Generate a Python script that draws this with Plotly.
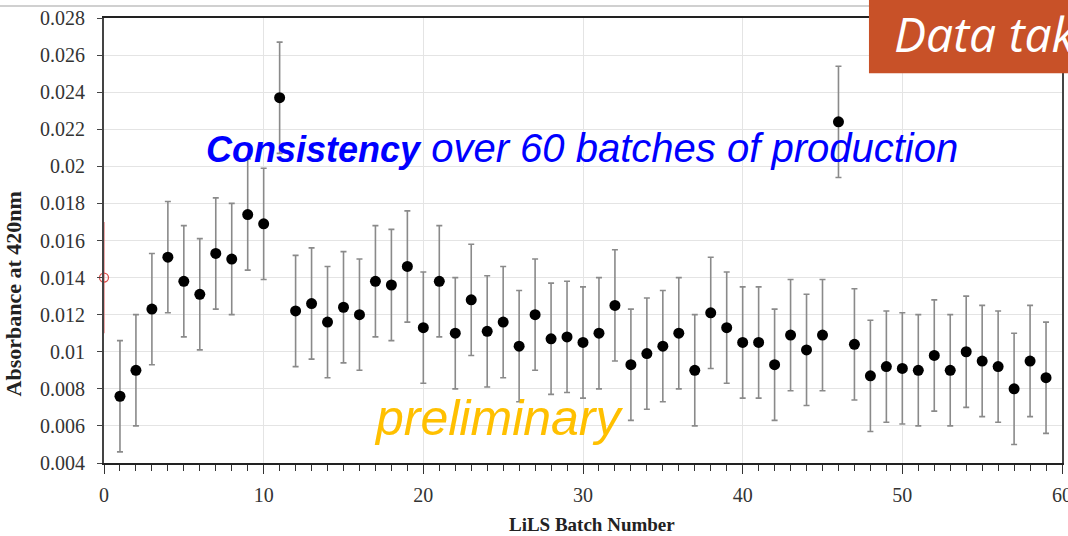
import plotly.graph_objects as go

# Absorbance at 420 nm for each LiLS production batch
batch = list(range(1, 60))
absorbance = [
    0.0076, 0.0090, 0.0123, 0.0151, 0.0138, 0.0131, 0.0153, 0.0150, 0.0174, 0.0169,
    0.0237, 0.0122, 0.0126, 0.0116, 0.0124, 0.0120, 0.0138, 0.0136, 0.0146, 0.0113,
    0.0138, 0.0110, 0.0128, 0.0111, 0.0116, 0.0103, 0.0120, 0.0107, 0.0108, 0.0105,
    0.0110, 0.0125, 0.0093, 0.0099, 0.0103, 0.0110, 0.0090, 0.0121, 0.0113, 0.0105,
    0.0105, 0.0093, 0.0109, 0.0101, 0.0109, 0.0224, 0.0104, 0.0087, 0.0092, 0.0091,
    0.0090, 0.0098, 0.0090, 0.0100, 0.0095, 0.0092, 0.0080, 0.0095, 0.0086,
]
uncertainty = 0.003

# Reference point at batch 0
ref_batch = [0]
ref_absorbance = [0.014]
ref_uncertainty = 0.003

y_ticks = [0.004, 0.006, 0.008, 0.01, 0.012, 0.014, 0.016, 0.018, 0.02,
           0.022, 0.024, 0.026, 0.028]
y_tick_text = ["0.004", "0.006", "0.008", "0.01", "0.012", "0.014", "0.016",
               "0.018", "0.02", "0.022", "0.024", "0.026", "0.028"]
x_ticks = [0, 10, 20, 30, 40, 50, 60]

serif = "Liberation Serif"

fig = go.Figure()

fig.add_trace(go.Scatter(
    x=ref_batch, y=ref_absorbance, mode="markers",
    marker=dict(symbol="circle-open", size=9, color="#d9534f", line=dict(width=1.3)),
    error_y=dict(type="constant", value=ref_uncertainty, color="#e07070",
                 thickness=1.2, width=0),
    cliponaxis=False, showlegend=False,
))

fig.add_trace(go.Scatter(
    x=batch, y=absorbance, mode="markers",
    marker=dict(symbol="circle", size=11, color="black"),
    error_y=dict(type="constant", value=uncertainty, color="#8a8a8a",
                 thickness=1.6, width=3),
    showlegend=False,
))

fig.update_layout(
    width=1068, height=536,
    margin=dict(l=104, r=6, t=18, b=73, autoexpand=False),
    paper_bgcolor="white", plot_bgcolor="white",
    xaxis=dict(
        range=[0, 60], tickvals=x_ticks, ticks="outside", ticklen=9,
        tickcolor="#333", tickwidth=1.3,
        minor=dict(dtick=1, ticks="outside", ticklen=6, tickcolor="#333", tickwidth=1.2,
                   showgrid=False),
        showgrid=True, gridcolor="#e4e4e4", gridwidth=1,
        showline=True, linecolor="#222", linewidth=2, mirror=True,
        zeroline=False, automargin=False,
        tickfont=dict(family=serif, size=20, color="#333"),
        ticklabelstandoff=4, ticklabeloverflow="allow",
    ),
    yaxis=dict(
        range=[0.004, 0.028], tickvals=y_ticks, ticktext=y_tick_text,
        ticks="outside", ticklen=5, tickcolor="#444", tickwidth=1.2,
        showgrid=True, gridcolor="#e4e4e4", gridwidth=1,
        showline=True, linecolor="#444", linewidth=2, mirror=True,
        zeroline=False, automargin=False,
        tickfont=dict(family=serif, size=20, color="#333"),
        ticklabelstandoff=8,
    ),
    shapes=[
        dict(type="line", xref="paper", yref="paper", x0=-0.11, x1=1.01,
             y0=1.027, y1=1.027, line=dict(color="#d0d0d0", width=2), layer="above"),
        dict(type="rect", xref="paper", yref="paper", x0=0.7985, x1=1.01,
             y0=0.876, y1=1.05, fillcolor="#c85128", line=dict(width=0), layer="above"),
    ],
    annotations=[
        dict(text="<b>LiLS Batch Number</b>", xref="paper", yref="paper",
             x=0.509, y=-0.139, xanchor="center", yanchor="middle", showarrow=False,
             font=dict(family=serif, size=19, color="#222")),
        dict(text="<b>Absorbance at 420nm</b>", xref="paper", yref="paper",
             x=-0.094, y=0.381, xanchor="center", yanchor="middle", showarrow=False,
             textangle=-90, font=dict(family=serif, size=22, color="#222")),
        dict(text="<i><b><span style='font-size:36px'>Consistency</span></b> over 60 batches of production</i>",
             xref="paper", yref="paper", x=0.499, y=0.708, xanchor="center",
             yanchor="middle", showarrow=False,
             font=dict(family="Liberation Sans", size=40, color="#0000ff")),
        dict(text="<i>preliminary</i>", xref="paper", yref="paper",
             x=0.412, y=0.101, xanchor="center", yanchor="middle", showarrow=False,
             font=dict(family="Liberation Sans", size=50, color="#ffc000")),
        dict(text="<i>Data tak</i>", xref="paper", yref="paper",
             x=0.8225, y=0.966, xanchor="left", yanchor="middle", showarrow=False,
             font=dict(family="Open Sans", size=48, color="white")),
    ],
)

fig.write_html("out.html")
